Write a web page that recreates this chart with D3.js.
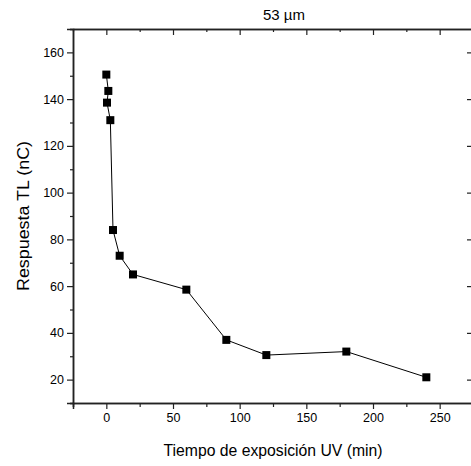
<!DOCTYPE html>
<html>
<head>
<meta charset="utf-8">
<script src="https://cdn.jsdelivr.net/npm/d3@7"></script>
<style>
  body { margin: 0; background: #fff; }
  text { font-family: Arial, "Liberation Sans", sans-serif; fill: #000; }
</style>
</head>
<body>
<div id="chart-area"></div>
<script>
// data
var tiempo = [0, 1.5, 0.5, 3, 5, 10, 20, 60, 90, 120, 180, 240];
var respuesta = [150.5, 143.5, 138.5, 131, 84, 73, 65, 58.5, 37, 30.5, 32, 21];
var xTicks = [0, 50, 100, 150, 200, 250];
var xMinor = [-25, 25, 75, 125, 175, 225, 275];
var yTicks = [20, 40, 60, 80, 100, 120, 140, 160];
var yMinor = [10, 30, 50, 70, 90, 110, 130, 150, 170];

var margin = { top: 29, right: -2, bottom: 63, left: 73 },
    width = 471 - margin.left - margin.right,
    height = 466 - margin.top - margin.bottom;

var svg = d3.select("#chart-area")
    .append("svg")
    .attr("width", 471)
    .attr("height", 466)
    .style("display", "block");

var g = svg.append("g")
    .attr("transform", `translate(${margin.left},${margin.top})`);

// Scales
var x = d3.scaleLinear().domain([-25, 275]).range([0, width]);
var y = d3.scaleLinear().domain([10, 170]).range([height, 0]);

// Axes
var xAxis = d3.axisBottom(x).tickValues(xTicks).tickSize(6).tickPadding(4).tickFormat(d3.format("d"));
var yAxis = d3.axisLeft(y).tickValues(yTicks).tickSize(6).tickPadding(3).tickFormat(d3.format("d"));

function styleAxis(sel) {
    sel.select(".domain").attr("stroke", "#222").attr("stroke-width", 1.5);
    sel.selectAll(".tick line").attr("stroke", "#222").attr("stroke-width", 1.2);
    sel.selectAll("text").attr("font-size", "12.5px").attr("font-family", "Arial, 'Liberation Sans', sans-serif").attr("fill", "#000");
}

g.append("g").attr("transform", `translate(0,${height})`).call(xAxis).call(styleAxis);
g.append("g").call(yAxis).call(styleAxis);
g.append("g").attr("transform", `translate(0,${height})`)
    .call(d3.axisBottom(x).tickValues(xMinor).tickSize(4).tickFormat(""))
    .call(styleAxis);
g.append("g")
    .call(d3.axisLeft(y).tickValues(yMinor).tickSize(3).tickFormat(""))
    .call(styleAxis);

// top and right (ticks inward)
g.append("g").call(d3.axisBottom(x).tickValues(xTicks).tickSize(6).tickSizeOuter(0).tickFormat("")).call(styleAxis);
g.append("g").call(d3.axisBottom(x).tickValues(xMinor).tickSize(3).tickSizeOuter(0).tickFormat("")).call(styleAxis);
g.append("g").attr("transform", `translate(${width},0)`)
    .call(d3.axisLeft(y).tickValues(yTicks).tickSize(6).tickSizeOuter(0).tickFormat("")).call(styleAxis);

// Axis labels
g.append("text").attr("x", width / 2).attr("y", height + 53).attr("text-anchor", "middle")
    .attr("font-size", "16px").attr("textLength", 219).attr("lengthAdjust", "spacingAndGlyphs")
    .text("Tiempo de exposición UV (min)");
g.append("text").attr("transform", "rotate(-90)").attr("x", -height / 2).attr("y", -44).attr("text-anchor", "middle")
    .attr("font-size", "16px").attr("textLength", 150).attr("lengthAdjust", "spacingAndGlyphs")
    .text("Respuesta TL (nC)");
svg.append("text").attr("x", 284).attr("y", 20).attr("text-anchor", "middle")
    .attr("font-size", "15px")
    .text("53 µm");

// Line + markers
var pts = tiempo.map((t, i) => ({ t: t, r: respuesta[i] }));
var line = d3.line().x(d => x(d.t)).y(d => y(d.r));

g.append("path").datum(pts)
    .attr("fill", "none")
    .attr("stroke", "#000")
    .attr("stroke-width", 1)
    .attr("d", line);

g.selectAll("rect.pt").data(pts).enter().append("rect")
    .attr("class", "pt")
    .attr("x", d => x(d.t) - 4)
    .attr("y", d => y(d.r) - 4)
    .attr("width", 8)
    .attr("height", 8)
    .attr("fill", "#000");
</script>
</body>
</html>
